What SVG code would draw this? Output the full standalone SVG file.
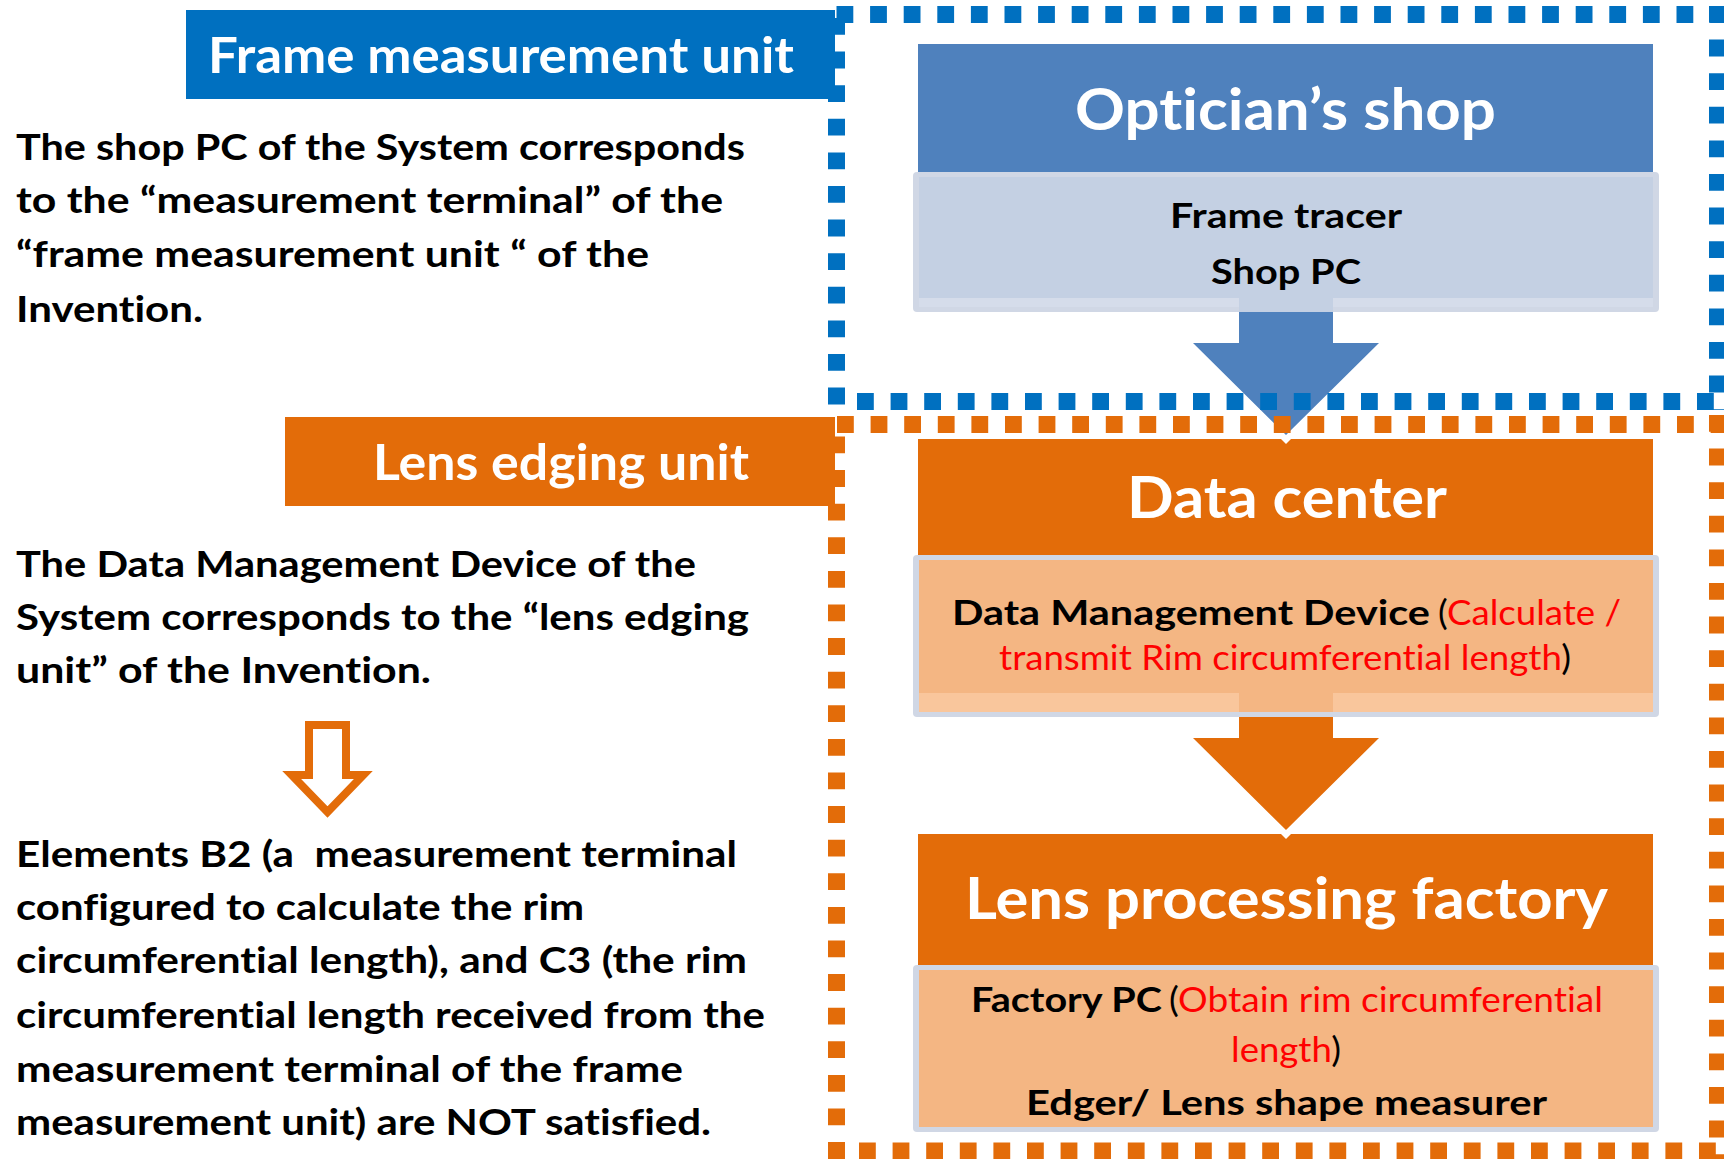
<svg xmlns="http://www.w3.org/2000/svg" width="1724" height="1159" viewBox="0 0 1724 1159">
  <style>
    .bg { fill: #FFFFFF; }
    text { font-variant-ligatures: none; font-feature-settings: "liga" 0, "clig" 0; }
    .body { font-family: Lato, "Open Sans", "Liberation Sans", sans-serif; font-weight: 700; font-size: 37px; fill: #000000; }
    .pre { white-space: pre; }
    .label { font-family: Lato, "Open Sans", "Liberation Sans", sans-serif; font-weight: 700; font-size: 49px; fill: #FFFFFF; }
    .head { font-family: Lato, "Open Sans", "Liberation Sans", sans-serif; font-weight: 700; font-size: 58px; fill: #FFFFFF; text-anchor: start; }
    .sub { font-family: Lato, "Open Sans", "Liberation Sans", sans-serif; font-weight: 700; font-size: 35px; fill: #000000; }
    .note { font-family: Lato, "Open Sans", "Liberation Sans", sans-serif; font-weight: 400; font-size: 35px; fill: #FF0000; }
    .paren { fill: #000000; }
    .blue-dash { stroke: #0070C0; stroke-width: 17; stroke-dasharray: 16.8 16.8; fill: none; }
    .orange-dash { stroke: #E36C09; stroke-width: 17; stroke-dasharray: 16.8 16.8; fill: none; }
    .sub-border { fill: #D0D7E5; }
    .blue-sub { fill: #C4D0E3; }
    .blue-strip { fill: #D5DCEA; }
    .orange-sub { fill: #F4B683; }
    .orange-strip { fill: #F9C69C; }
  </style>

  <rect class="bg" x="0" y="0" width="1724" height="1159"/>

  <!-- Left column: unit labels and explanatory text -->
  <g id="label-frame-measurement-unit">
    <rect x="186" y="10" width="649" height="89" fill="#0070C0"/>
    <text class="label" x="208" y="73" textLength="586" lengthAdjust="spacingAndGlyphs">Frame measurement unit</text>
  </g>

  <g id="text-shop-pc">
    <text class="body" x="16" y="160" textLength="729" lengthAdjust="spacingAndGlyphs">The shop PC of the System corresponds</text>
    <text class="body" x="16" y="213" textLength="707" lengthAdjust="spacingAndGlyphs">to the “measurement terminal” of the</text>
    <text class="body" x="16" y="267" textLength="633" lengthAdjust="spacingAndGlyphs">“frame measurement unit “ of the</text>
    <text class="body" x="16" y="322" textLength="187" lengthAdjust="spacingAndGlyphs">Invention.</text>
  </g>

  <g id="label-lens-edging-unit">
    <rect x="285" y="417" width="550" height="89" fill="#E36C09"/>
    <text class="label" x="373" y="480" textLength="376" lengthAdjust="spacingAndGlyphs">Lens edging unit</text>
  </g>

  <g id="text-data-management">
    <text class="body" x="16" y="577" textLength="680" lengthAdjust="spacingAndGlyphs">The Data Management Device of the</text>
    <text class="body" x="16" y="630" textLength="733" lengthAdjust="spacingAndGlyphs">System corresponds to the “lens edging</text>
    <text class="body" x="16" y="683" textLength="415" lengthAdjust="spacingAndGlyphs">unit” of the Invention.</text>
  </g>

  <g id="hollow-arrow">
    <polygon points="309,725 346,725 346,775 363.3,775 327.5,812 291.7,775 309,775" fill="#FFFFFF" stroke="#E36C09" stroke-width="8" stroke-linejoin="miter"/>
  </g>

  <g id="text-elements">
    <text class="body pre" x="16" y="867" textLength="721" lengthAdjust="spacingAndGlyphs" xml:space="preserve">Elements B2 (a  measurement terminal</text>
    <text class="body" x="16" y="920" textLength="568" lengthAdjust="spacingAndGlyphs">configured to calculate the rim</text>
    <text class="body" x="16" y="973" textLength="731" lengthAdjust="spacingAndGlyphs">circumferential length), and C3 (the rim</text>
    <text class="body" x="16" y="1028" textLength="749" lengthAdjust="spacingAndGlyphs">circumferential length received from the</text>
    <text class="body" x="16" y="1082" textLength="667" lengthAdjust="spacingAndGlyphs">measurement terminal of the frame</text>
    <text class="body" x="16" y="1135" textLength="695" lengthAdjust="spacingAndGlyphs">measurement unit) are NOT satisfied.</text>
  </g>

  <!-- Right column: process blocks -->
  <g id="opticians-shop">
    <rect x="918" y="44" width="735" height="128" fill="#4F81BD"/>
    <text class="head" x="1075" y="130" textLength="421" lengthAdjust="spacingAndGlyphs">Optician’s shop</text>
    <rect class="sub-border" x="913" y="172" width="746" height="140" rx="4"/>
    <rect class="blue-strip" x="919" y="177" width="734" height="130"/>
    <rect class="blue-sub" x="919" y="177" width="734" height="121"/>
    <rect class="blue-sub" x="1239" y="297" width="94" height="15"/>
    <text class="sub" x="1170" y="228" textLength="232" lengthAdjust="spacingAndGlyphs">Frame tracer</text>
    <text class="sub" x="1211" y="284" textLength="150" lengthAdjust="spacingAndGlyphs">Shop PC</text>
  </g>

  <g id="data-center">
    <rect x="918" y="439" width="735" height="116" fill="#E36C09"/>
    <text class="head" x="1127" y="518" textLength="320" lengthAdjust="spacingAndGlyphs">Data center</text>
    <rect class="sub-border" x="913" y="555" width="746" height="162" rx="4"/>
    <rect class="orange-strip" x="919" y="560" width="734" height="152"/>
    <rect class="orange-sub" x="919" y="560" width="734" height="133"/>
    <rect class="orange-sub" x="1239" y="692" width="94" height="20"/>
    <text class="sub" x="952" y="625" textLength="478" lengthAdjust="spacingAndGlyphs">Data Management Device</text>
    <text class="note" x="1438" y="625" textLength="183" lengthAdjust="spacingAndGlyphs"><tspan class="paren">(</tspan>Calculate /</text>
    <text class="note" x="999" y="670" textLength="572" lengthAdjust="spacingAndGlyphs">transmit Rim circumferential length<tspan class="paren">)</tspan></text>
  </g>

  <g id="lens-processing-factory">
    <rect x="918" y="834" width="735" height="131" fill="#E36C09"/>
    <text class="head" x="965" y="919" textLength="643" lengthAdjust="spacingAndGlyphs">Lens processing factory</text>
    <rect class="sub-border" x="913" y="965" width="746" height="167" rx="4"/>
    <rect class="orange-sub" x="919" y="970" width="734" height="157"/>
    <text class="sub" x="971" y="1012" textLength="191" lengthAdjust="spacingAndGlyphs">Factory PC</text>
    <text class="note" x="1169" y="1012" textLength="434" lengthAdjust="spacingAndGlyphs"><tspan class="paren">(</tspan>Obtain rim circumferential</text>
    <text class="note" x="1231" y="1062" textLength="110" lengthAdjust="spacingAndGlyphs">length<tspan class="paren">)</tspan></text>
    <text class="sub" x="1026" y="1115" textLength="521" lengthAdjust="spacingAndGlyphs">Edger/ Lens shape measurer</text>
  </g>

  <!-- Flow arrows between blocks -->
  <g id="connectors">
    <polygon points="1239,312 1333,312 1333,343 1379,343 1286,435 1193,343 1239,343" fill="#4F81BD"/>
    <polygon points="1281,439 1291,439 1286,444" fill="#FFFFFF"/>
    <polygon points="1239,717 1333,717 1333,738 1379,738 1286,830 1193,738 1239,738" fill="#E36C09"/>
    <polygon points="1281,834 1291,834 1286,839" fill="#FFFFFF"/>
  </g>

  <!-- Dotted unit boundaries -->
  <g id="boundary-frame-measurement">
    <line class="blue-dash" x1="836.5" y1="14.5" x2="1726" y2="14.5"/>
    <line class="blue-dash" x1="1717.5" y1="6" x2="1717.5" y2="410"/>
    <line class="blue-dash" x1="857" y1="401.5" x2="1726" y2="401.5"/>
    <line class="blue-dash" x1="836.5" y1="18" x2="836.5" y2="405"/>
  </g>
  <g id="boundary-lens-edging">
    <line class="orange-dash" x1="837" y1="424.5" x2="1726" y2="424.5"/>
    <line class="orange-dash" x1="1717.5" y1="415" x2="1717.5" y2="1159"/>
    <line class="orange-dash" x1="859" y1="1151" x2="1726" y2="1151"/>
    <line class="orange-dash" x1="836.5" y1="436.5" x2="836.5" y2="1159"/>
  </g>
</svg>
